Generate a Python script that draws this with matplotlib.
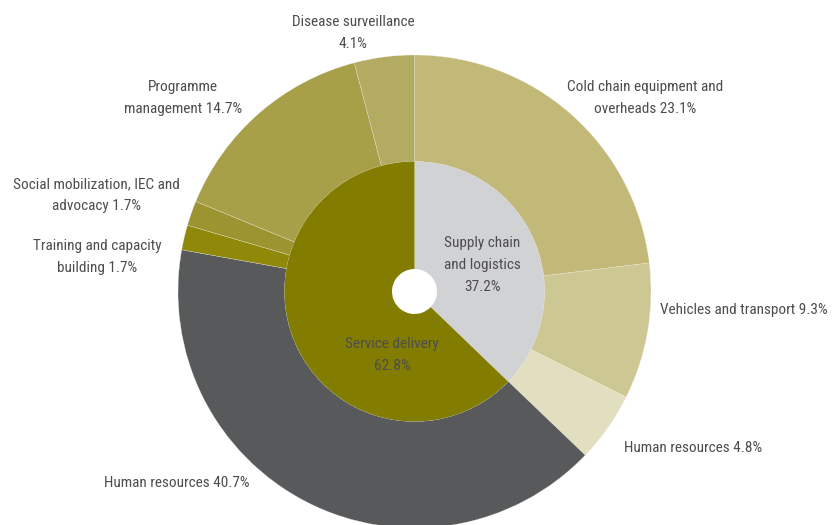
import matplotlib.pyplot as plt

# inner ring: main categories
inner_labels = ['Supply chain\nand logistics\n37.2%', 'Service delivery\n62.8%']
inner_values = [37.2, 62.8]
inner_colors = ['#d1d2d4', '#827c00']

# outer ring: sub categories (clockwise from top)
outer_labels = ['Cold chain equipment and\noverheads 23.1%', 'Vehicles and transport 9.3%',
                'Human resources 4.8%', 'Human resources 40.7%',
                'Training and capacity\nbuilding 1.7%', 'Social mobilization, IEC and\nadvocacy 1.7%',
                'Programme\nmanagement 14.7%', 'Disease surveillance\n4.1%']
outer_values = [23.1, 9.3, 4.8, 40.7, 1.7, 1.7, 14.7, 4.1]
outer_colors = ['#c2b978', '#cdc893', '#e2dfc0', '#58595b',
                '#8f8808', '#9b9430', '#a8a048', '#b3ab62']

# label positions in pixels (x, y from top)
outer_pos = [(645, 98), (744, 310), (693, 448), (177, 483),
             (97, 257), (96, 195), (183, 98), (353, 33)]
inner_pos = [(482, 265), (392, 355)]

W, H = 838, 525
cx, cy, R = 414.5, 291.5, 236.5

fig = plt.figure(figsize=(W / 100, H / 100), dpi=100)
ax = fig.add_axes([0, 0, 1, 1])

ax.pie(outer_values, radius=1, colors=outer_colors, startangle=90, counterclock=False,
       wedgeprops=dict(width=106.5 / R, edgecolor='#eeeeea', linewidth=0.2))
ax.pie(inner_values, radius=130 / R, colors=inner_colors, startangle=90, counterclock=False,
       wedgeprops=dict(width=(130 - 22.5) / R, linewidth=0))

ax.set_xlim(-cx / R, (W - cx) / R)
ax.set_ylim(-(H - cy) / R, cy / R)
ax.set_aspect('auto')
ax.axis('off')

def px(p):
    return (p[0] - cx) / R, (cy - p[1]) / R

font = dict(family=['Roboto Condensed', 'DejaVu Sans'], fontsize=11, fontweight='normal',
            color='#4d4d4f', ha='center', va='center', linespacing=1.75)
for lab, p in zip(outer_labels, outer_pos):
    ax.text(*px(p), lab, **font)
for lab, p in zip(inner_labels, inner_pos):
    ax.text(*px(p), lab, **font)

fig.savefig('out.png', dpi=100)
